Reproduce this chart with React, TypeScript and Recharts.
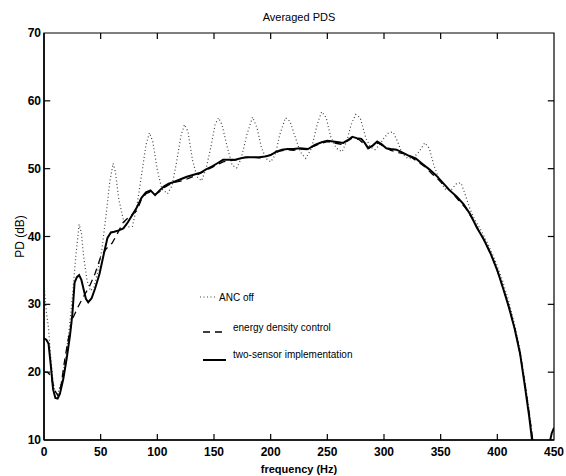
import { LineChart, Line, XAxis, YAxis, Legend, ReferenceArea, ReferenceLine } from "recharts";

// ANC off (dotted)
const ancOffFreq = [
  0, 2, 4, 6, 8, 10, 13, 16, 19, 22, 25, 28, 31, 33, 35, 38, 41, 44, 47, 51, 55, 58, 61, 63, 66, 70, 74, 78,
  82, 86, 90, 93, 96, 100, 104, 109, 113, 117, 121, 124, 127, 131, 135, 139, 143, 147, 151, 154, 157, 162,
  166, 170, 174, 179, 184, 188, 192, 196, 200, 204, 208, 213, 217, 221, 226, 231, 236, 241, 245, 249, 253,
  258, 263, 267, 271, 275, 279, 284, 288, 292, 296, 300, 304, 308, 312, 316, 321, 326, 331, 336, 340, 344,
  349, 354, 359, 364, 368, 372, 376, 380, 386, 392, 398, 404, 410, 415, 420, 424, 428, 431, 434,
];
const ancOffDb = [
  33, 29, 26.5, 22, 18.5, 17, 17.2, 19, 22, 26, 31, 37, 41.8, 40.5, 37, 33.5, 32, 32.5, 34.5, 38, 43.5, 48,
  50.8, 49.5, 45.5, 42.5, 41.4, 41.5, 44.5, 49, 53.5, 55.3, 54, 49.8, 47, 46.3, 47.5, 51, 55, 56.5, 55.5,
  51.3, 48.8, 48.2, 50, 53, 56.5, 57.5, 56.5, 53, 50.5, 50.1, 51.5, 55, 57.6, 56, 53, 51.5, 51, 52, 55, 57.5,
  57, 55, 52.5, 51.5, 53, 56.5, 58.4, 57.5, 54.7, 53, 52.5, 54, 56.5, 58, 57.5, 54.5, 53.2, 52.8, 53.5, 54.5,
  55.3, 55.4, 54, 52.2, 51.5, 51.6, 52.5, 53.8, 53, 50.5, 48.3, 47, 46.8, 47.8, 47.9, 46, 44, 42.5, 40.8,
  38.8, 36.5, 33.8, 30.5, 27.2, 23.3, 19, 14.5, 10.5, 8,
];

// energy density control (dashed)
const energyFreq = [
  0, 3, 6, 9, 12, 15, 18, 21, 25, 30, 35, 40, 45, 50, 55, 60, 64, 70, 76, 82, 86, 90, 94, 98, 102, 106, 110,
  116, 122, 128, 134, 140, 146, 152, 158, 164, 170, 176, 182, 190, 196, 202, 208, 214, 220, 226, 232, 238,
  244, 250, 256, 262, 268, 272, 278, 283, 287, 291, 295, 300, 306, 312, 318, 324, 330, 336, 342, 348, 354,
  360, 366, 372, 378, 384, 390, 396, 402, 407, 412, 417, 421, 425, 429, 432,
];
const energyDb = [
  20, 20, 19.5, 17.5, 16.6, 18, 21.5, 24.5, 27.8, 29.6, 31.2, 32.6, 34.5, 37, 38.2, 39, 40.2, 42.1, 43, 43.8,
  45.5, 46.3, 46.6, 46.2, 46.6, 47.2, 47.6, 48, 48.2, 48.6, 49, 49.5, 50, 50.5, 51, 51.2, 51.3, 51.6, 51.7,
  51.6, 51.8, 52.2, 52.6, 52.8, 52.7, 52.9, 52.8, 53.3, 53.7, 54, 53.8, 53.6, 54.1, 54.5, 54.3, 53.5, 53.1,
  53.5, 53.8, 53.2, 52.7, 52.4, 52.2, 51.7, 51, 50.3, 49.3, 48.4, 47.4, 46.5, 45.3, 44.2, 42.6, 40.8, 38.9,
  36.8, 34, 31.4, 28.5, 25.4, 21.8, 17.5, 12.8, 9,
];

// two-sensor implementation (solid)
const twoSensorFreq = [
  0, 2, 4, 6, 8, 10, 12, 14, 17, 20, 23, 25, 27, 29, 31, 33, 35, 37, 39, 42, 45, 49, 53, 56, 59, 62, 66, 70,
  74, 78, 82, 86, 90, 94, 98, 102, 106, 110, 114, 120, 126, 132, 138, 143, 148, 153, 158, 163, 168, 173, 178,
  184, 190, 195, 200, 205, 210, 215, 220, 226, 233, 239, 245, 250, 255, 260, 264, 268, 272, 276, 280, 283,
  286, 290, 294, 298, 302, 306, 311, 316, 322, 328, 334, 340, 346, 352, 358, 364, 370, 376, 382, 388, 394,
  400, 405, 410, 415, 420, 424, 428, 431, 436, 440, 443, 446, 448, 450,
];
const twoSensorDb = [
  25, 24.8, 24.2, 21, 17.5, 16.2, 16.1, 16.8, 19, 22, 25.5, 28.5, 33.2, 34, 34.3, 33.6, 32.2, 30.8, 30.3,
  30.9, 32.3, 34.5, 37.6, 39.8, 40.6, 40.7, 40.9, 41.2, 42.1, 43.2, 44.3, 45.7, 46.5, 46.8, 46.1, 46.8, 47.4,
  47.8, 48, 48.4, 48.8, 49.1, 49.4, 49.9, 50.3, 50.8, 51.3, 51.3, 51.3, 51.5, 51.7, 51.7, 51.7, 51.8, 52, 52.5,
  52.8, 52.9, 52.9, 53, 52.9, 53.5, 53.9, 54.1, 54, 53.9, 53.8, 54.2, 54.7, 54.5, 54.4, 53.8, 53, 53.4, 54,
  53.6, 53, 52.9, 52.8, 52.4, 51.9, 51.5, 50.7, 49.9, 49, 47.9, 46.8, 45.9, 44.8, 43.3, 41.3, 39.6, 37.5, 35,
  32.4, 29.7, 26.6, 22.8, 18.3, 13.6, 9.5, 5, 4, 6, 9.5, 11, 11.8,
];

const xTicks = [0, 50, 100, 150, 200, 250, 300, 350, 400, 450];
const yTicks = [10, 20, 30, 40, 50, 60, 70];

// inward tick length, in data units (~6px)
const TICK_DB = 0.9;
const TICK_HZ = 5.5;

const FONT = "'Liberation Sans', Arial, Helvetica, sans-serif";

const toPoints = (freq: number[], db: number[]) => freq.map((f, i) => ({ freq: f, db: db[i] }));

const ancOff = toPoints(ancOffFreq, ancOffDb);
const energy = toPoints(energyFreq, energyDb);
const twoSensor = toPoints(twoSensorFreq, twoSensorDb);

// bold tick labels, like the scanned figure
function XTick({ x, y, payload }: any) {
  return (
    <text x={x} y={y + 10} textAnchor="middle" fontFamily={FONT} fontSize={12} fontWeight="bold" fill="#000">
      {payload.value}
    </text>
  );
}

function YTick({ x, y, payload }: any) {
  return (
    <text x={x} y={y + 4} textAnchor="end" fontFamily={FONT} fontSize={12} fontWeight="bold" fill="#000">
      {payload.value}
    </text>
  );
}

function LegendBox() {
  return (
    <svg width={260} height={80} style={{ fontFamily: FONT, fontSize: 10 }}>
      <line x1={2} y1={12} x2={18} y2={12} stroke="#444" strokeWidth={1.2} strokeDasharray="1 2.5" />
      <text x={21} y={15.5} fill="#000">ANC off</text>
      <line x1={5} y1={47} x2={26} y2={47} stroke="#000" strokeWidth={1.3} strokeDasharray="7 5" />
      <text x={35} y={46} fill="#000">energy density control</text>
      <line x1={5} y1={75} x2={28} y2={75} stroke="#000" strokeWidth={2} />
      <text x={35} y={73} fill="#000">two-sensor implementation</text>
    </svg>
  );
}

const tickMarks = [
  ...xTicks.slice(1, -1).map((t) => ({ key: `b${t}`, seg: [{ x: t, y: 10 }, { x: t, y: 10 + TICK_DB }] })),
  ...xTicks.slice(1, -1).map((t) => ({ key: `t${t}`, seg: [{ x: t, y: 70 }, { x: t, y: 70 - TICK_DB }] })),
  ...yTicks.slice(1, -1).map((t) => ({ key: `l${t}`, seg: [{ x: 0, y: t }, { x: TICK_HZ, y: t }] })),
  ...yTicks.slice(1, -1).map((t) => ({ key: `r${t}`, seg: [{ x: 450, y: t }, { x: 450 - TICK_HZ, y: t }] })),
];

export default function App() {
  return (
    <div style={{ position: "absolute", left: 0, top: 0, width: 566, height: 476, background: "#fff" }}>
      <div
        style={{
          position: "absolute",
          left: 44,
          width: 510,
          top: 10,
          textAlign: "center",
          fontFamily: FONT,
          fontSize: 11,
          lineHeight: "14px",
          color: "#000",
        }}
      >
        Averaged PDS
      </div>
      <LineChart width={566} height={476} margin={{ top: 33, right: 12, bottom: 0, left: 0 }}>
        <XAxis
          xAxisId="bottom"
          dataKey="freq"
          type="number"
          domain={[0, 450]}
          ticks={xTicks}
          allowDataOverflow
          height={36}
          tickLine={false}
          tickSize={0}
          tickMargin={6}
          stroke="#000"
          strokeWidth={1.5}
          tick={<XTick />}
          label={{ value: "frequency (Hz)", position: "insideBottom", offset: 3, style: { fontFamily: FONT, fontSize: 11, fontWeight: 700, fill: "#000" } }}
        />
        <YAxis
          yAxisId="left"
          type="number"
          domain={[10, 70]}
          ticks={yTicks}
          allowDataOverflow
          width={44}
          tickLine={false}
          tickSize={0}
          tickMargin={3}
          stroke="#000"
          strokeWidth={1.5}
          tick={<YTick />}
          label={{ value: "PD (dB)", angle: -90, position: "insideLeft", offset: 20, style: { textAnchor: "middle", fontFamily: FONT, fontSize: 12, fill: "#000" } }}
        />
        <ReferenceArea
          xAxisId="bottom"
          yAxisId="left"
          x1={0}
          x2={450}
          y1={10}
          y2={70}
          fill="none"
          stroke="#000"
          strokeWidth={1.2}
          ifOverflow="visible"
        />
        {/* inward tick marks on all four sides, MATLAB style */}
        {tickMarks.map((m) => (
          <ReferenceLine
            key={m.key}
            xAxisId="bottom"
            yAxisId="left"
            segment={m.seg}
            stroke="#000"
            strokeWidth={1.2}
            ifOverflow="visible"
          />
        ))}
        <Legend
          layout="vertical"
          align="center"
          verticalAlign="middle"
          content={() => <LegendBox />}
          wrapperStyle={{ left: 198, top: 285, width: 260, height: 80 }}
        />
        <Line
          xAxisId="bottom"
          yAxisId="left"
          data={ancOff}
          dataKey="db"
          name="ANC off"
          stroke="#444"
          strokeWidth={1.2}
          strokeDasharray="1 2.5"
          dot={false}
          isAnimationActive={false}
        />
        <Line
          xAxisId="bottom"
          yAxisId="left"
          data={energy}
          dataKey="db"
          name="energy density control"
          stroke="#000"
          strokeWidth={1.3}
          strokeDasharray="7 5"
          dot={false}
          isAnimationActive={false}
        />
        <Line
          xAxisId="bottom"
          yAxisId="left"
          data={twoSensor}
          dataKey="db"
          name="two-sensor implementation"
          stroke="#000"
          strokeWidth={2}
          dot={false}
          isAnimationActive={false}
        />
      </LineChart>
    </div>
  );
}
